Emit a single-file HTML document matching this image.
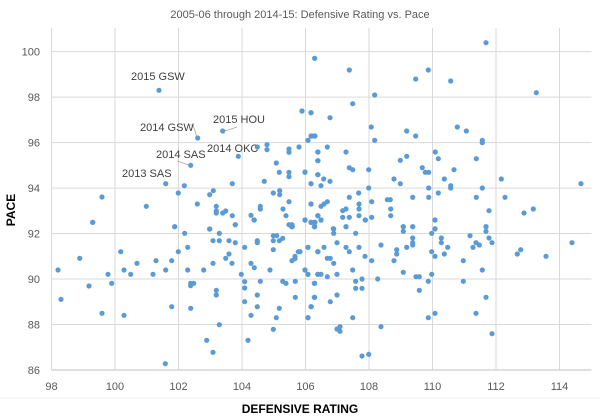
<!DOCTYPE html>
<html><head><meta charset="utf-8"><style>
html,body{margin:0;padding:0;background:#fff;}
svg{display:block;font-family:"Liberation Sans",sans-serif;}
</style></head><body>
<svg id="s" width="600" height="420" viewBox="0 0 600 420" xmlns="http://www.w3.org/2000/svg">
<rect width="600" height="420" fill="#fff"/>
<text x="300" y="18" text-anchor="middle" font-size="11" fill="#595959">2005-06 through 2014-15: Defensive Rating vs. Pace</text>
<g id="grid" stroke="#d9d9d9" stroke-width="1"></g>
<g id="lab" font-size="11" fill="#595959"></g>
<g stroke="#a6a6a6" stroke-width="0.8" fill="none">
<path d="M190 125 L193 125 L197 137"/>
<path d="M237 127 L225 131"/>
<path d="M177 161 L189 165"/>
</g>
<g font-size="11" fill="#404040">
<text x="131" y="80">2015 GSW</text>
<text x="140" y="131">2014 GSW</text>
<text x="213" y="123">2015 HOU</text>
<text x="207" y="152">2014 OKC</text>
<text x="156" y="158">2014 SAS</text>
<text x="122" y="177">2013 SAS</text>
</g>
<g id="pts" fill="#5b9bd5"></g>
<text x="300" y="413" text-anchor="middle" font-size="12" font-weight="bold" fill="#000">DEFENSIVE RATING</text>
<text transform="translate(15,210) rotate(-90)" text-anchor="middle" font-size="12" font-weight="bold" fill="#000">PACE</text>
</svg>
<script>
var NS="http://www.w3.org/2000/svg";
function el(p,t,a,txt){var e=document.createElementNS(NS,t);for(var k in a)e.setAttribute(k,a[k]);if(txt!=null)e.textContent=txt;p.appendChild(e);return e;}
var g=document.getElementById("grid"),l=document.getElementById("lab"),P=document.getElementById("pts");
function X(v){return 51.5+(v-98)*31.75;} function Y(v){return 370-(v-86)*22.74;}
for(var v=86;v<=100;v+=2){var y=Y(v);el(g,"line",{x1:51.5,x2:591.5,y1:y,y2:y,stroke:v==86?"#bfbfbf":"#d9d9d9"});el(l,"text",{x:40,y:y+4,"text-anchor":"end"},String(v));}
for(var v=98;v<=114;v+=2){var x=X(v);el(g,"line",{x1:x,x2:x,y1:28,y2:370});el(l,"text",{x:x,y:390,"text-anchor":"middle"},String(v));}
el(g,"line",{x1:0,x2:600,y1:398,y2:398,stroke:"#ececec"});
var Z=[[30,30,[387,181,503,324,578,303,482,406,625,379,407,461,463,467,445,489,349,529,216,501,188,577,854,85,816,243,843,248,845,318,855,318,834,331,682,351,711,344,711,359,807,351,777,357,777,367,863,366,863,392,739,399,748,427,777,427,777,440,825,427,863,434,843,461,703,454,607,461,550,482,539,494,502,522,559,529,559,543,559,549,578,549,587,543,607,557,616,584,663,556,673,570,691,529,691,537,730,489,749,482,749,494,759,537,768,557,777,515,777,584,787,590,825,570,843,522,843,577,855,577,863,557,434,590,539,597]],
[300,30,[558,38,44,85,148,120,385,120,347,147,452,153,709,188,224,195,158,221,6,243,33,248,90,263,214,291,320,303,472,291,499,303,33,318,43,318,347,318,224,331,24,331,547,331,547,338,82,351,138,366,54,366,54,392,406,366,415,386,529,386,301,391,320,379,148,413,158,419,206,419,367,413,376,427,386,427,462,419,15,426,54,434,33,461,63,467,90,454,71,447,282,447,301,461,433,447,452,467,452,474,547,474,604,447,206,474,386,474,843,461,148,502,176,489,338,502,386,502,415,489,529,502,615,502,33,522,63,529,72,522,82,515,215,515,262,509,271,509,177,522,128,542,138,537,177,537,272,537,567,542,700,537,672,549,54,557,148,562,128,562,177,557,196,570,215,562,272,557,15,570,33,577,44,577,63,570,44,590,138,590,100,596,310,590,338,590,405,570,405,596,558,590]],
[30,220,[188,7,84,150,93,238,149,115,177,198,216,280,234,163,245,190,272,95,282,150,282,286,302,163,321,130,369,163,378,122,407,150,425,122,425,260,406,431,434,20,445,95,464,40,473,82,473,150,482,190,482,197,491,190,482,265,521,150,530,361,549,397,559,211,559,225,568,314,539,27,549,130,549,62,568,62,568,40,587,115,597,102,597,62,606,130,616,68,616,14,644,82,634,163,644,185,644,204,644,245,654,361,663,286,663,130,673,143,682,62,682,68,691,184,682,225,682,260,720,150,730,89,730,62,730,47,740,47,748,62,758,55,730,328,739,293,748,265,758,184,768,190,786,14,786,122,795,109,795,116,805,95,796,184,796,232,825,150,834,82,834,163,834,293,843,260,853,190,853,232,863,95,863,163,825,0,843,7,853,7,853,20,672,0,785,20]],
[300,220,[15,0,34,7,44,7,44,20,63,0,101,27,101,40,138,20,196,0,167,40,310,20,310,34,338,20,405,0,405,27,395,40,424,54,424,68,338,54,338,68,338,75,558,20,558,34,510,47,567,54,576,68,528,68,538,75,519,82,24,82,72,82,111,68,138,82,148,95,177,82,243,75,290,89,290,102,320,82,395,95,405,109,433,102,443,82,652,102,662,89,738,109,816,68,0,95,54,95,82,115,91,115,101,130,195,109,215,122,282,122,490,122,15,150,24,163,54,163,63,163,82,170,111,163,158,150,167,184,186,177,167,205,186,205,233,177,310,157,348,170,358,170,395,163,385,184,490,184,547,150,44,190,44,232,111,225,91,245,34,260,24,293,158,293,243,320,111,327,120,320,120,334,358,211,385,293,405,280,528,280,558,232,576,341,186,408,206,403]]];
Z.forEach(function(z){var a=z[2];for(var i=0;i<a.length;i+=2)el(P,"circle",{cx:(z[0]+a[i]/3).toFixed(1),cy:(z[1]+a[i+1]/3).toFixed(1),r:2.6});});
</script>
</body></html>
